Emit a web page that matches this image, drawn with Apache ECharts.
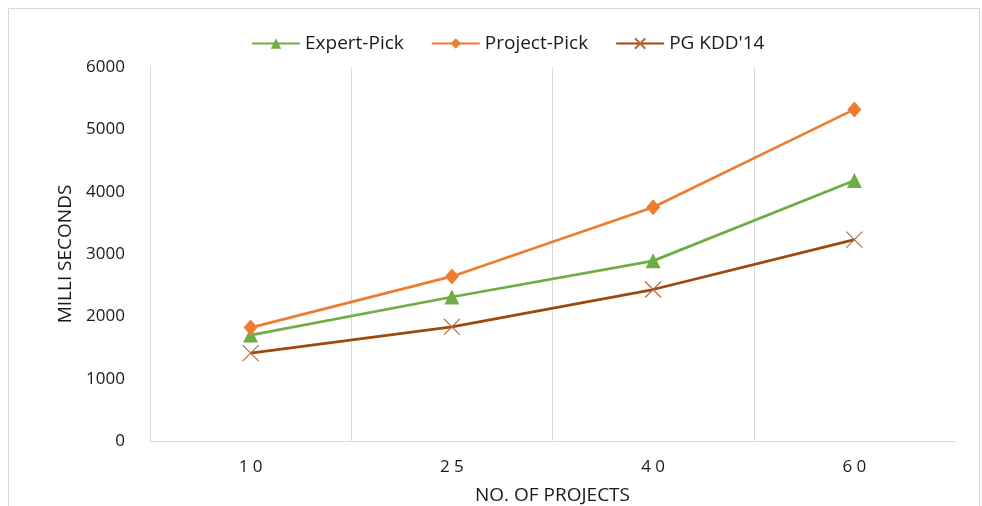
<!DOCTYPE html>
<html>
<head>
<meta charset="utf-8">
<script src="https://cdn.jsdelivr.net/npm/echarts@6/dist/echarts.min.js"></script>
<style>
  html, body { margin: 0; padding: 0; background: #fff; }
  #chart { width: 982px; height: 506px; }
</style>
</head>
<body>
<div id="chart"></div>
<script>
'use strict';
// values
const projects = ['10', '25', '40', '60'];
const expertPick = [1700, 2310, 2890, 4180];
const projectPick = [1820, 2640, 3750, 5320];
const pgKdd14 = [1410, 1830, 2430, 3230];
const yTicks = [0, 1000, 2000, 3000, 4000, 5000, 6000];

const FONT = 'Open Sans';
const TEXT = '#1a1a1a';
const GREEN = '#70ad47';
const ORANGE = '#ed7d31';
const BROWN = '#9e480e';

// X marker drawn as outline-only path
const CROSS = 'path://M0,0L10,10M10,0L0,10';

var chart = echarts.init(document.getElementById('chart'));

var option = {
  animation: false,
  backgroundColor: '#fff',
  graphic: [{
    type: 'rect',
    shape: { x: 8.5, y: 8.5, width: 971, height: 510 },
    style: { fill: 'none', stroke: '#d9d9d9', lineWidth: 1 },
    silent: true
  }],
  legend: {
    top: 29,
    left: 246,
    itemGap: 27,
    itemWidth: 48,
    itemHeight: 13,
    textStyle: { fontFamily: FONT, fontSize: 19, color: TEXT },
    data: ['Expert-Pick', 'Project-Pick', "PG KDD'14"]
  },
  grid: { left: 150, right: 27, top: 67, bottom: 65, outerBoundsMode: 'none' },
  xAxis: {
    type: 'category',
    data: projects,
    boundaryGap: true,
    name: 'NO. OF PROJECTS',
    nameLocation: 'middle',
    nameGap: 45,
    nameTextStyle: { fontFamily: FONT, fontSize: 19, color: TEXT },
    axisLine: { lineStyle: { color: '#d9d9d9', width: 1 } },
    axisTick: { show: false },
    axisLabel: {
      margin: 18,
      fontFamily: FONT, fontSize: 17, color: TEXT,
      formatter: function (v) { return v.split('').join(' '); }
    },
    splitLine: { show: true, showMinLine: false, showMaxLine: false, lineStyle: { color: '#d9d9d9', width: 1 } }
  },
  yAxis: {
    type: 'value',
    min: yTicks[0],
    max: yTicks[yTicks.length - 1],
    interval: 1000,
    name: 'MILLI SECONDS',
    nameLocation: 'middle',
    nameGap: 68,
    nameRotate: 90,
    nameTextStyle: { fontFamily: FONT, fontSize: 19, color: TEXT },
    axisLine: { show: true, lineStyle: { color: '#d9d9d9', width: 1 } },
    axisTick: { show: false },
    axisLabel: {
      margin: 25, fontFamily: FONT, fontSize: 17, color: TEXT,
      formatter: function (v) { return String(v); }
    },
    splitLine: { show: false }
  },
  series: [
    {
      name: 'Expert-Pick',
      type: 'line',
      data: expertPick,
      symbol: 'triangle',
      symbolSize: 15,
      lineStyle: { color: GREEN, width: 2.75 },
      itemStyle: { color: GREEN }
    },
    {
      name: 'Project-Pick',
      type: 'line',
      data: projectPick,
      symbol: 'diamond',
      symbolSize: [14, 16],
      lineStyle: { color: ORANGE, width: 2.75 },
      itemStyle: { color: ORANGE }
    },
    {
      name: "PG KDD'14",
      type: 'line',
      data: pgKdd14,
      symbol: CROSS,
      symbolSize: 16,
      lineStyle: { color: BROWN, width: 2.75 },
      itemStyle: { color: BROWN, borderColor: '#b86a3e', borderWidth: 1.2 }
    }
  ]
};

chart.setOption(option);
</script>
</body>
</html>
